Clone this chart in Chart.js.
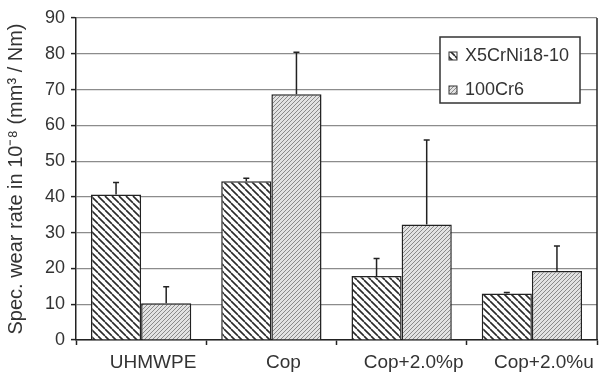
<!DOCTYPE html>
<html>
<head>
<meta charset="utf-8">
<script src="https://cdn.jsdelivr.net/npm/chart.js@4.4.1/dist/chart.umd.min.js"></script>
<style>
  body { margin: 0; background: #fff; }
  #wrap { width: 601px; height: 377px; position: relative; }
</style>
</head>
<body>
<div id="wrap"><canvas id="wearChart"></canvas></div>
<script>
const categories = ["UHMWPE", "Cop", "Cop+2.0%p", "Cop+2.0%u"];
const seriesNames = ["X5CrNi18-10", "100Cr6"];
const x5Values = [40.7, 44.4, 17.9, 13.0];
const x5Errors = [3.3, 0.8, 4.9, 0.3];
const cr6Values = [10.3, 68.7, 32.3, 19.3];
const cr6Errors = [4.6, 11.7, 23.6, 7.0];
const yMin = 0, yMax = 90, yStep = 10;

// hatch patterns for the two series
function makeHatch(size, bg, fg, width, back) {
    const c = document.createElement("canvas");
    c.width = size; c.height = size;
    const g = c.getContext("2d");
    g.fillStyle = bg;
    g.fillRect(0, 0, size, size);
    g.strokeStyle = fg;
    g.lineWidth = width;
    g.beginPath();
    for (const k of [-size, 0, size]) {
        if (back) { g.moveTo(k, 0); g.lineTo(k + size, size); }
        else { g.moveTo(k, size); g.lineTo(k + size, 0); }
    }
    g.stroke();
    return g.createPattern(c, "repeat");
}
const hatchX5 = makeHatch(7, "#ffffff", "#2a2a2a", 1.6, true);
const hatchCr6 = makeHatch(4, "#e2e2e2", "#8a8a8a", 1, false);

const errorBars = {
    id: "errorBars",
    afterDatasetsDraw(chart) {
        const ctx = chart.ctx;
        const y = chart.scales.y;
        const errs = [x5Errors, cr6Errors];
        ctx.save();
        ctx.strokeStyle = "#222";
        ctx.lineWidth = 1.5;
        chart.data.datasets.forEach((ds, i) => {
            chart.getDatasetMeta(i).data.forEach((bar, j) => {
                const top = y.getPixelForValue(ds.data[j] + errs[i][j]);
                const base = y.getPixelForValue(ds.data[j]);
                ctx.beginPath();
                ctx.moveTo(bar.x, base);
                ctx.lineTo(bar.x, top);
                ctx.moveTo(bar.x - 3, top);
                ctx.lineTo(bar.x + 3, top);
                ctx.stroke();
            });
        });
        ctx.restore();
    }
};

const frameAndLegend = {
    id: "frameAndLegend",
    afterDraw(chart) {
        const ctx = chart.ctx;
        const a = chart.chartArea;
        ctx.save();
        // right frame line
        ctx.strokeStyle = "#222";
        ctx.lineWidth = 1.5;
        ctx.beginPath();
        ctx.moveTo(a.right, a.top);
        ctx.lineTo(a.right, a.bottom);
        ctx.stroke();

        // legend box
        const bx = a.right - 157, by = a.top + 19, bw = 140, bh = 66;
        ctx.fillStyle = "#fff";
        ctx.fillRect(bx, by, bw, bh);
        ctx.strokeStyle = "#333";
        ctx.lineWidth = 1.5;
        ctx.strokeRect(bx, by, bw, bh);
        const fills = [hatchX5, hatchCr6];
        ctx.font = "18px 'Liberation Sans', Arial, sans-serif";
        ctx.textBaseline = "middle";
        seriesNames.forEach((name, i) => {
            const cy = by + 19 + i * 34;
            ctx.fillStyle = fills[i];
            ctx.fillRect(bx + 9, cy - 4, 8, 8);
            ctx.strokeStyle = "#333";
            ctx.lineWidth = 1;
            ctx.strokeRect(bx + 9, cy - 4, 8, 8);
            ctx.fillStyle = "#333";
            ctx.fillText(name, bx + 25, cy);
        });
        ctx.restore();
    }
};

const ctx = document.getElementById("wearChart").getContext("2d");
new Chart(ctx, {
    type: "bar",
    data: {
        labels: categories,
        datasets: [
            {
                label: seriesNames[0],
                data: x5Values,
                backgroundColor: hatchX5,
                borderColor: "#222",
                borderWidth: 1.5
            },
            {
                label: seriesNames[1],
                data: cr6Values,
                backgroundColor: hatchCr6,
                borderColor: "#222",
                borderWidth: 1.5
            }
        ]
    },
    options: {
        responsive: true,
        maintainAspectRatio: false,
        animation: false,
        layout: { padding: { top: 18, right: 4, left: 0, bottom: 0 } },
        datasets: { bar: { categoryPercentage: 0.77, barPercentage: 1.0 } },
        plugins: {
            legend: { display: false },
            tooltip: { enabled: false }
        },
        scales: {
            x: {
                afterFit: s => { s.height = 37; },
                grid: {
                    offset: true,
                    drawOnChartArea: false,
                    tickLength: 5,
                    tickColor: "#222",
                    tickWidth: 1.5
                },
                border: { color: "#222", width: 1.5 },
                ticks: {
                    color: "#333",
                    padding: 6,
                    labelOffset: 12,
                    font: { family: "'Liberation Sans', Arial, sans-serif", size: 19 }
                }
            },
            y: {
                min: yMin,
                max: yMax,
                afterFit: s => { s.width = 76; },
                grid: {
                    color: "#8c8c8c",
                    lineWidth: 1.2,
                    tickLength: 5,
                    tickColor: "#222",
                    tickWidth: 1.5
                },
                border: { color: "#222", width: 1.5 },
                ticks: {
                    stepSize: yStep,
                    color: "#333",
                    padding: 6,
                    font: { family: "'Liberation Sans', Arial, sans-serif", size: 18 }
                },
                title: {
                    display: true,
                    text: "Spec. wear rate in 10\u207B\u2078 (mm\u00B3 / Nm)",
                    color: "#333",
                    padding: { top: 4, bottom: 0 },
                    font: { family: "'Liberation Sans', Arial, sans-serif", size: 20 }
                }
            }
        }
    },
    plugins: [errorBars, frameAndLegend]
});
</script>
</body>
</html>
